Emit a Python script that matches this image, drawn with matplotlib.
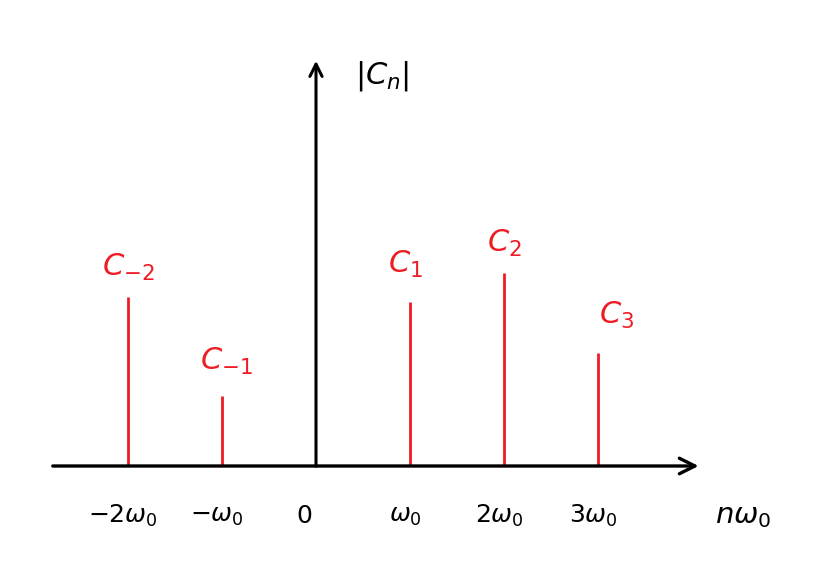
import matplotlib
matplotlib.use("Agg")
import matplotlib.pyplot as plt

# harmonic index n and magnitudes |C_n| (arbitrary units)
n_vals = [-2, -1, 1, 2, 3]
mags = [1.69, 0.70, 1.64, 1.93, 1.13]
coef_labels = [r'$C_{-2}$', r'$C_{-1}$', r'$C_1$', r'$C_2$', r'$C_3$']
tick_pos = [-2, -1, 0, 1, 2, 3]
tick_labels = [r'$-2\omega_0$', r'$-\omega_0$', r'$0$', r'$\omega_0$', r'$2\omega_0$', r'$3\omega_0$']

fig = plt.figure(figsize=(8.29, 5.73), dpi=100)
ax = fig.add_axes([0, 0, 1, 1])
ax.set_xlim(-316/94, (829-316)/94)
ax.set_ylim(-1.07, 4.66)
ax.axis('off')

red = '#ee1c25'
# axes with arrows
ax.annotate('', xy=(4.1, 0), xytext=(-2.83, 0),
            arrowprops=dict(arrowstyle='->', lw=2.4, color='black', mutation_scale=28))
ax.annotate('', xy=(0, 4.08), xytext=(0, -0.03),
            arrowprops=dict(arrowstyle='->', lw=2.2, color='black', mutation_scale=22))

# stems
for n, m in zip(n_vals, mags):
    ax.plot([n, n], [0, m], color=red, lw=2, solid_capstyle='butt')

# coefficient labels
offsets = [(0, 0.3), (0.05, 0.35), (-0.05, 0.38), (0, 0.3), (0.2, 0.38)]
for n, m, lab, (dx, dy) in zip(n_vals, mags, coef_labels, offsets):
    ax.text(n + dx, m + dy, lab, color=red, fontsize=22, ha='center', va='center')

# tick labels
for p, lab in zip(tick_pos, tick_labels):
    ax.text(p - 0.05 if p != 0 else -0.13, -0.5, lab, fontsize=18, ha='center', va='center')

ax.text(4.55, -0.5, r'$n\omega_0$', fontsize=21, ha='center', va='center')
ax.text(0.7, 3.9, r'$|C_n|$', fontsize=22, ha='center', va='center')

fig.savefig('out.png', dpi=100)
